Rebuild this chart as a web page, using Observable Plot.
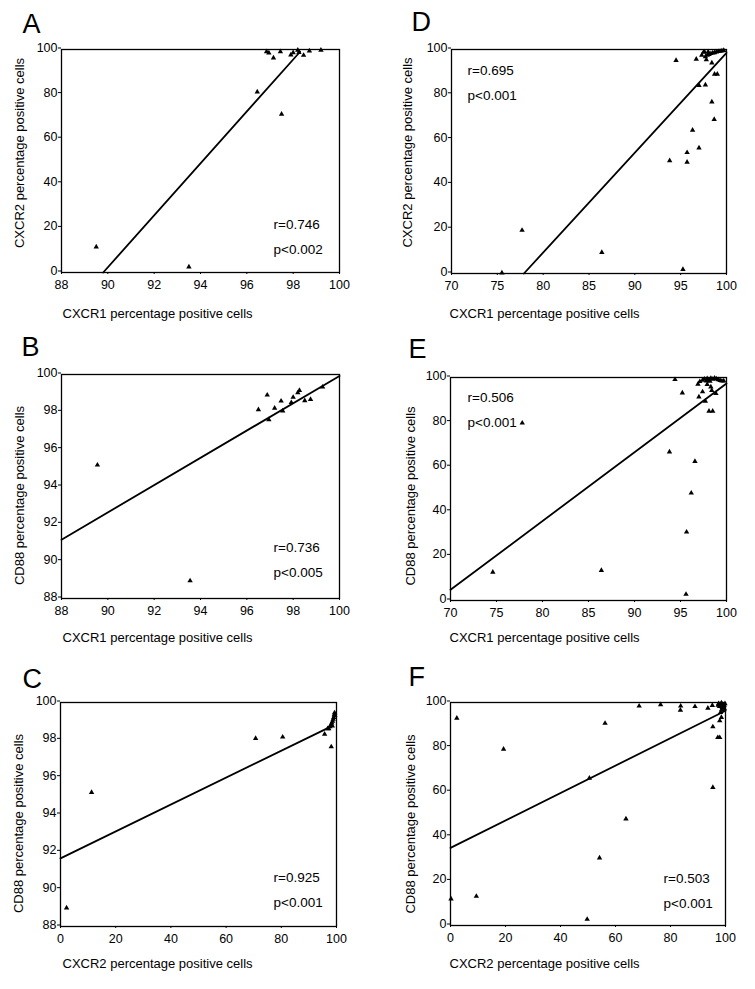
<!DOCTYPE html>
<html><head><meta charset="utf-8">
<script src="https://cdn.jsdelivr.net/npm/d3@7"></script>
<script src="https://cdn.jsdelivr.net/npm/@observablehq/plot@0.6"></script>
<style>
body{margin:0;background:#fff;}
#page{position:relative;width:755px;height:989px;font-family:"Liberation Sans",Arial,sans-serif;overflow:hidden;}
.panel{position:absolute;}
#edge{position:absolute;left:750px;top:0;width:2px;height:984px;background:#111;}
</style></head><body><div id="page"><div id="edge"></div></div>
<script>
// ---- tick values ----
const ticks88 = [88, 90, 92, 94, 96, 98, 100];
const ticks70 = [70, 75, 80, 85, 90, 95, 100];
const ticks0 = [0, 20, 40, 60, 80, 100];

// ---- labels ----
const labelCXCR1 = "CXCR1 percentage positive cells";
const labelCXCR2 = "CXCR2 percentage positive cells";
const labelCD88 = "CD88 percentage positive cells";

// ---- Panel A: CXCR1 vs CXCR2 ----
const aX = [89.5, 93.5, 96.45, 97.5, 96.85, 96.95, 97.15, 97.45, 97.9, 98.0, 98.2, 98.25, 98.45, 98.7, 99.2];
const aY = [11.5, 2.5, 81, 71, 99.0, 98.5, 96.2, 99.0, 97.6, 98.6, 99.7, 98.7, 97.4, 99.4, 99.7];
const aFitX = [89.8, 98.3];
const aFitY = [0, 99];
const aStats = "r=0.746\np<0.002";

// ---- Panel B: CXCR1 vs CD88 ----
const bX = [89.55, 93.55, 96.5, 96.88, 96.95, 97.2, 97.48, 97.55, 97.92, 98.0, 98.2, 98.27, 98.5, 98.75, 99.27];
const bY = [95.15, 88.95, 98.12, 98.9, 97.58, 98.2, 98.58, 98.05, 98.5, 98.78, 99.02, 99.15, 98.6, 98.67, 99.33];
const bFitX = [88, 100];
const bFitY = [91.15, 99.92];
const bStats = "r=0.736\np<0.005";

// ---- Panel C: CXCR2 vs CD88 ----
const cX = [2.2, 11.25, 70.7, 80.5, 95.7, 98.1, 96.8, 97.2, 97.6, 98.0, 98.3, 98.6, 98.8, 99.0, 99.2, 99.4, 98.5, 99.3];
const cY = [89.0, 95.18, 98.08, 98.15, 98.3, 97.63, 98.6, 98.6, 98.7, 98.8, 98.9, 99.0, 99.1, 99.2, 99.35, 99.3, 98.75, 99.45];
const cFitX = [0, 98.5];
const cFitY = [91.65, 98.75];
const cStats = "r=0.925\np<0.001";

// ---- Panel D: CXCR1 vs CXCR2 ----
const dX = [75.5, 77.7, 86.4, 95.25, 93.8, 95.7, 95.7, 97.0, 96.3, 98.66, 98.4, 97.0, 97.7, 98.7, 99.0, 94.5, 96.7, 98.4, 97.8,
  97.3, 97.5, 97.7, 97.9, 98.1, 98.3, 98.5, 98.7, 98.9, 99.1, 99.3, 99.5, 99.7, 97.6, 98.0];
const dY = [0.3, 19.3, 9.4, 1.8, 50.4, 54.0, 49.7, 56.1, 64.0, 68.8, 76.6, 84.0, 84.2, 89.0, 89.0, 95.1, 95.7, 94.0, 95.4,
  97.5, 98.8, 96.8, 97.5, 97.8, 98.2, 98.5, 98.6, 98.9, 99.1, 99.2, 99.4, 99.6, 99.0, 98.9];
const dFitX = [77.9, 100];
const dFitY = [0, 98.5];
const dStats = "r=0.695\np<0.001";

// ---- Panel E: CXCR1 vs CD88 ----
const eX = [74.6, 77.8, 86.4, 93.8, 95.6, 95.66, 96.17, 96.57, 94.4, 95.2, 97.0, 97.4, 97.7, 98.1, 98.5, 98.3, 98.4, 98.85, 96.9, 97.9,
  97.1, 97.4, 97.6, 97.9, 98.1, 98.3, 98.5, 98.7, 98.9, 99.1, 99.3, 99.5, 98.2, 97.8, 99.7];
const eY = [12.7, 79.6, 13.5, 66.6, 2.8, 30.7, 48.2, 62.4, 99.1, 93.1, 91.3, 93.6, 89.4, 84.9, 84.9, 95.8, 94.2, 92.8, 97.0, 96.9,
  98.2, 98.8, 99.3, 99.5, 99.0, 99.6, 99.2, 99.7, 99.4, 99.0, 98.7, 98.4, 98.3, 98.5, 98.5];
const eFitX = [70, 100];
const eFitY = [4.8, 97.3];
const eStats = "r=0.506\np<0.001";

// ---- Panel F: CXCR2 vs CD88 ----
const fX = [0.2, 2.3, 9.4, 19.3, 49.7, 50.5, 54.2, 56.2, 63.8, 68.6, 76.4, 83.7, 83.6, 88.9, 93.6, 95.2, 95.4, 95.4, 97.2, 97.9, 97.9, 98.5, 98.2,
  97.5, 98.0, 98.5, 99.0, 99.5, 99.8, 98.2, 98.8, 99.3, 97.8, 99.0, 98.6, 99.6, 97.3];
const fY = [11.9, 93.0, 13.1, 79.1, 2.8, 66.1, 30.3, 90.7, 47.8, 98.4, 99.0, 98.4, 96.6, 98.2, 97.5, 98.7, 89.1, 61.9, 84.3, 84.3, 91.8, 93.3, 95.5,
  99.5, 99.0, 99.8, 99.2, 98.8, 99.5, 98.3, 97.8, 97.5, 98.2, 96.5, 96.8, 97.2, 98.8];
const fFitX = [0, 100];
const fFitY = [34.8, 96.3];
const fStats = "r=0.503\np<0.001";

const FONT = '"Liberation Sans", Arial, Helvetica, sans-serif';

const panels = [
  {letter: "A", left: 0, top: 0, w: 377, h: 325, m: [49, 38, 53, 61], xs: aX, ys: aY, fx: aFitX, fy: aFitY, stats: aStats,
   xd: [88, 100], xt: ticks88, yd: [0, 100], yt: ticks0, xl: labelCXCR1, yl: labelCXCR2,
   letterPos: [-39, -17], statPos: [212, 204], xlPos: [1, 45], ylPos: [-42, -8]},
  {letter: "D", left: 377, top: 0, w: 375, h: 325, m: [49, 26, 52, 74], xs: dX, ys: dY, fx: dFitX, fy: dFitY, stats: dStats,
   xd: [70, 100], xt: ticks70, yd: [0, 100], yt: ticks0, xl: labelCXCR1, yl: labelCXCR2,
   letterPos: [-40, -19], statPos: [16, 50], xlPos: [-2, 44], ylPos: [-44, -9]},
  {letter: "B", left: 0, top: 325, w: 377, h: 325, m: [49, 38, 52, 61], xs: bX, ys: bY, fx: bFitX, fy: bFitY, stats: bStats,
   xd: [88, 100], xt: ticks88, yd: [88, 100], yt: ticks88, xl: labelCXCR1, yl: labelCD88,
   letterPos: [-40, -19], statPos: [212, 202], xlPos: [1, 43], ylPos: [-42, 9]},
  {letter: "E", left: 377, top: 325, w: 375, h: 325, m: [52, 26, 50, 73], xs: eX, ys: eY, fx: eFitX, fy: eFitY, stats: eStats,
   xd: [70, 100], xt: ticks70, yd: [0, 100], yt: ticks0, xl: labelCXCR1, yl: labelCD88,
   letterPos: [-42, -20], statPos: [17, 49], xlPos: [-1, 41], ylPos: [-40, 7]},
  {letter: "C", left: 0, top: 650, w: 377, h: 339, m: [52, 41, 63, 60], xs: cX, ys: cY, fx: cFitX, fy: cFitY, stats: cStats,
   xd: [0, 100], xt: ticks0, yd: [88, 100], yt: ticks88, xl: labelCXCR2, yl: labelCD88,
   letterPos: [-38, -15], statPos: [213, 204], xlPos: [2, 41], ylPos: [-42, 9]},
  {letter: "F", left: 377, top: 650, w: 375, h: 339, m: [52, 27, 64, 73], xs: fX, ys: fY, fx: fFitX, fy: fFitY, stats: fStats,
   xd: [0, 100], xt: ticks0, yd: [0, 100], yt: ticks0, xl: labelCXCR2, yl: labelCD88,
   letterPos: [-42, -17], statPos: [213, 205], xlPos: [-1, 42], ylPos: [-40, 10]}
];

const page = document.getElementById("page");

for (const p of panels) {
  const pts = p.xs.map((x, i) => ({x, y: p.ys[i]}));
  const fit = p.fx.map((x, i) => ({x, y: p.fy[i]}));
  const chart = Plot.plot({
    width: p.w,
    height: p.h,
    marginTop: p.m[0],
    marginRight: p.m[1],
    marginBottom: p.m[2],
    marginLeft: p.m[3],
    style: {fontFamily: FONT, fontSize: "12px", color: "black", background: "white", overflow: "visible"},
    x: {domain: p.xd},
    y: {domain: p.yd},
    marks: [
      Plot.axisX(p.xt, {tickSize: 2, tickPadding: 6, fontSize: 12.5, label: null, stroke: "black"}),
      Plot.axisY(p.yt, {tickSize: 3, tickPadding: 1, fontSize: 12.5, label: null, stroke: "black", dy: -1.5}),
      Plot.line(fit, {x: "x", y: "y", stroke: "black", strokeWidth: 1.8}),
      Plot.dot(pts, {x: "x", y: "y", symbol: "triangle", r: 2, fill: "black", stroke: "none"}),
      Plot.frame({stroke: "black", strokeWidth: 1.3}),
      Plot.text([p.stats], {text: d => d, frameAnchor: "top-left", textAnchor: "start", lineAnchor: "bottom",
        lineHeight: 1.78, dx: p.statPos[0], dy: p.statPos[1], fontSize: 13.5, fill: "black"}),
      Plot.text([p.letter], {text: d => d, frameAnchor: "top-left", textAnchor: "start", lineAnchor: "bottom",
        dx: p.letterPos[0], dy: p.letterPos[1], fontSize: 27, fill: "black"}),
      Plot.text([p.xl], {text: d => d, frameAnchor: "bottom-left", textAnchor: "start", lineAnchor: "bottom",
        dx: p.xlPos[0], dy: p.xlPos[1], fontSize: 13, fill: "black"}),
      Plot.text([p.yl], {text: d => d, frameAnchor: "left", textAnchor: "middle", lineAnchor: "middle", rotate: -90,
        dx: p.ylPos[0], dy: p.ylPos[1], fontSize: 13, fill: "black"})
    ]
  });
  const div = document.createElement("div");
  div.className = "panel";
  div.style.left = p.left + "px";
  div.style.top = p.top + "px";
  div.appendChild(chart);
  page.appendChild(div);
}
</script>
</body></html>
